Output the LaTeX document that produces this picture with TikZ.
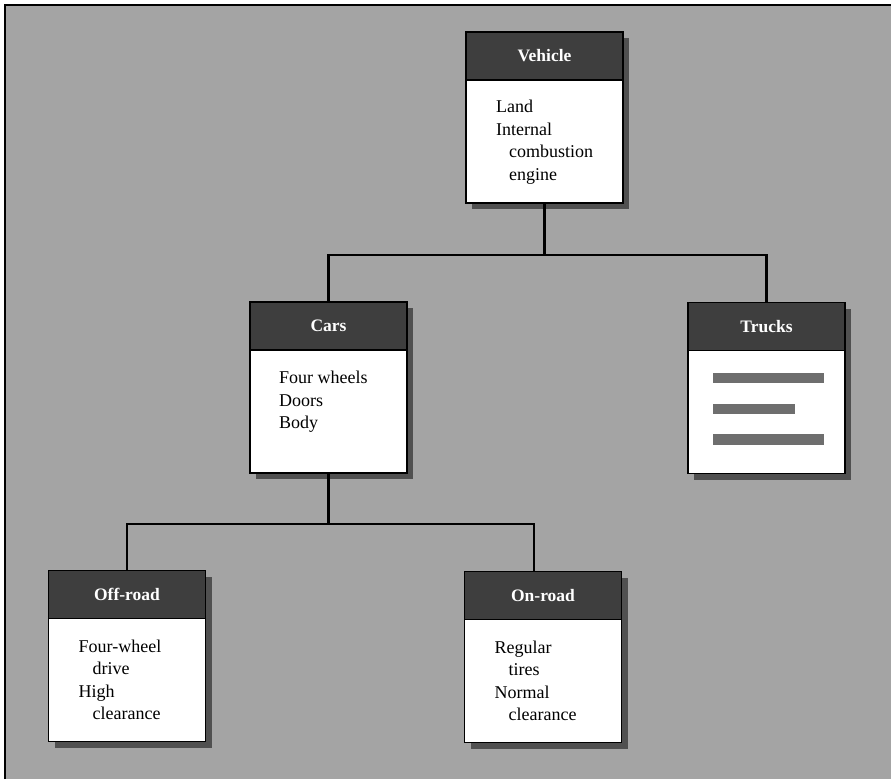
\documentclass[tikz,border=0pt]{standalone}
\usepackage{fontspec}
\setmainfont{Liberation Serif}
\usetikzlibrary{positioning, shadows}
\definecolor{bggray}{HTML}{A4A4A4}
\definecolor{hdrgray}{HTML}{3E3E3E}
\definecolor{shadowgray}{HTML}{505050}
\definecolor{bargray}{HTML}{6E6E6E}

\begin{document}
\begin{tikzpicture}[x=1pt, y=1pt,
    hdr/.style={draw, line width=1.5pt, fill=hdrgray, text=white, font=\fontsize{17.5}{20}\selectfont\bfseries,
      minimum width=157pt, minimum height=48pt, inner sep=0pt, outer sep=0pt,
      drop shadow={shadow xshift=6pt, shadow yshift=-6pt, fill=shadowgray, opacity=1}},
    bodybox/.style={draw, line width=1.5pt, fill=white, minimum width=157pt, minimum height=123pt,
      inner sep=0pt, outer sep=0pt,
      drop shadow={shadow xshift=6pt, shadow yshift=-6pt, fill=shadowgray, opacity=1}},
    txt/.style={anchor=north west, inner sep=0pt, align=left, font=\fontsize{18}{22.5}\selectfont},
    conn/.style={line width=2.6pt},
    bar/.style={fill=bargray}]
    \useasboundingbox (0,0) rectangle (891,-779);
    \fill[bggray] (5,-5) rectangle (891,-779);
    \draw[line width=2pt] (5,-779) -- (5,-5) -- (891,-5);

    % top class
    \node[hdr] (veh-h) at (544.5,-56) {Vehicle};
    \node[bodybox, below=0pt of veh-h] (veh) {};
    \node[txt, below right=20pt and 30pt of veh.north west] (veh-t)
      {Land\\Internal\\\hspace*{13pt}combustion\\\hspace*{13pt}engine};

    % second level
    \node[hdr] (cars-h) at (328.5,-326) {Cars};
    \node[bodybox, below=0pt of cars-h] (cars) {};
    \node[txt, below right=21pt and 29pt of cars.north west] (cars-t)
      {Four wheels\\Doors\\Body};

    \node[hdr] (trk-h) at (766.5,-326.5) {Trucks};
    \node[bodybox, below=0pt of trk-h] (trk) {};
    \fill[bar] ([xshift=25pt, yshift=-22pt]trk.north west) rectangle ++(111,-10);
    \fill[bar] ([xshift=25pt, yshift=-53pt]trk.north west) rectangle ++(82,-10);
    \fill[bar] ([xshift=25pt, yshift=-83pt]trk.north west) rectangle ++(111,-11);

    % third level
    \node[hdr] (off-h) at (127,-594.5) {Off-road};
    \node[bodybox, below=0pt of off-h] (off) {};
    \node[txt, below right=21pt and 30pt of off.north west] (off-t)
      {Four-wheel\\\hspace*{14pt}drive\\High\\\hspace*{14pt}clearance};

    \node[hdr] (on-h) at (543,-595.5) {On-road};
    \node[bodybox, below=0pt of on-h] (on) {};
    \node[txt, below right=21pt and 30pt of on.north west] (on-t)
      {Regular\\\hspace*{14pt}tires\\Normal\\\hspace*{14pt}clearance};

    % connectors
    \draw[conn] (veh.south) -- ++(0,-52) -| (cars-h.north);
    \draw[conn] (veh.south) -- ++(0,-52) -| (trk-h.north);
    \draw[conn] (cars.south) -- ++(0,-51) -| (off-h.north);
    \draw[conn] (cars.south) -- ++(0,-51) -| ([xshift=-9pt]on-h.north);
\end{tikzpicture}
\end{document}
